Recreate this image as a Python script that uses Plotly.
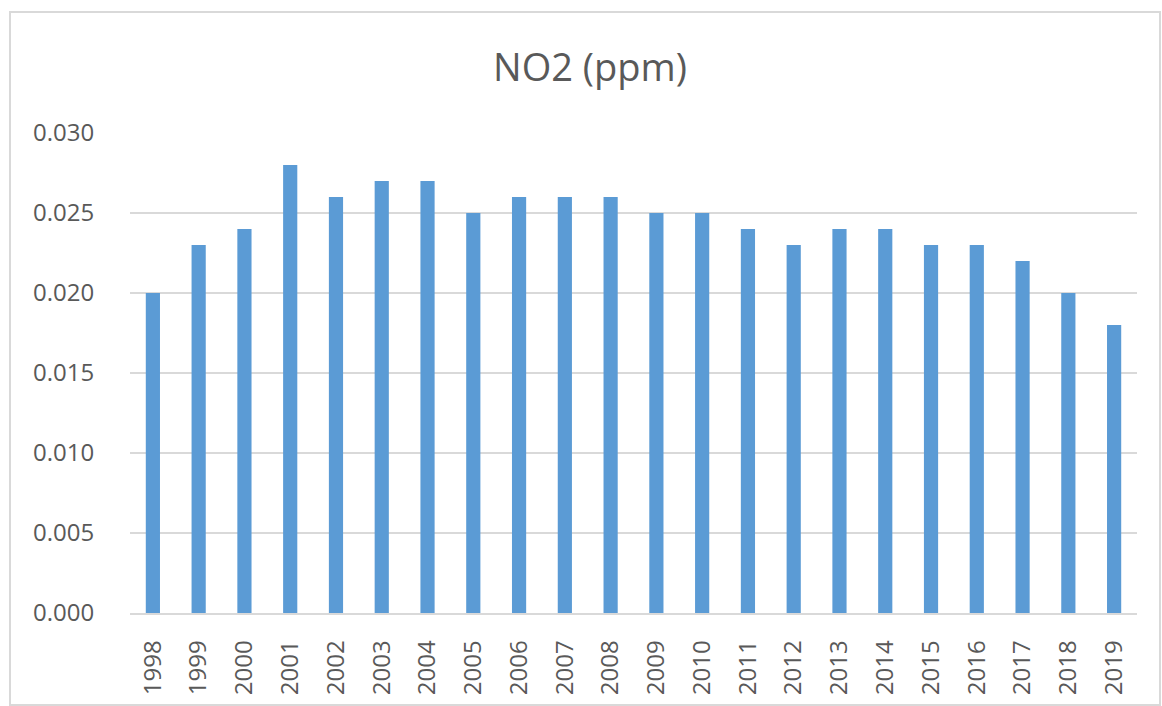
import plotly.graph_objects as go

# Annual mean NO2 concentration
years = ["1998", "1999", "2000", "2001", "2002", "2003", "2004", "2005", "2006", "2007", "2008",
         "2009", "2010", "2011", "2012", "2013", "2014", "2015", "2016", "2017", "2018", "2019"]
no2_ppm = [0.020, 0.023, 0.024, 0.028, 0.026, 0.027, 0.027, 0.025, 0.026, 0.026, 0.026,
           0.025, 0.025, 0.024, 0.023, 0.024, 0.024, 0.023, 0.023, 0.022, 0.020, 0.018]
y_ticks = [0.000, 0.005, 0.010, 0.015, 0.020, 0.025, 0.030]

W, H = 1162, 706
BAR = "#5B9BD5"
TEXT = "#595959"
GRID = "#D9D9D9"
FONT = "Open Sans, Noto Sans, sans-serif"

fig = go.Figure(go.Bar(x=years, y=no2_ppm, marker=dict(color=BAR, line=dict(width=0))))

fig.update_layout(
    width=W, height=H,
    margin=dict(l=0, r=0, t=0, b=0),
    paper_bgcolor="white", plot_bgcolor="white",
    bargap=0.69,
    showlegend=False,
    font=dict(family=FONT, color=TEXT, size=24),
    title=dict(text="NO2 (ppm)", x=590 / W, xanchor="center", y=1 - 68 / H, yanchor="middle",
               font=dict(family=FONT, size=38, color=TEXT)),
    xaxis=dict(domain=[130 / W, 1137 / W], type="category", tickangle=-90,
               showline=True, linecolor=GRID, linewidth=1.5, showgrid=False,
               ticks="outside", ticklen=16, tickcolor="rgba(0,0,0,0)",
               tickfont=dict(size=24, color=TEXT), automargin=False),
    yaxis=dict(domain=[1 - 613 / H, 1 - 133 / H], range=[0, 0.030],
               tickvals=y_ticks, ticktext=[f"{v:.3f}" for v in y_ticks],
               showgrid=True, gridcolor=GRID, gridwidth=1.5, zeroline=False, showline=False,
               ticks="outside", ticklen=30, tickcolor="rgba(0,0,0,0)",
               tickfont=dict(size=24, color=TEXT), automargin=False),
    shapes=[dict(type="rect", xref="paper", yref="paper",
                 x0=10 / W, x1=1160 / W, y0=1 - 705 / H, y1=1 - 12 / H,
                 line=dict(color=GRID, width=2), fillcolor="rgba(0,0,0,0)", layer="below")],
)

fig.write_html("out.html")
